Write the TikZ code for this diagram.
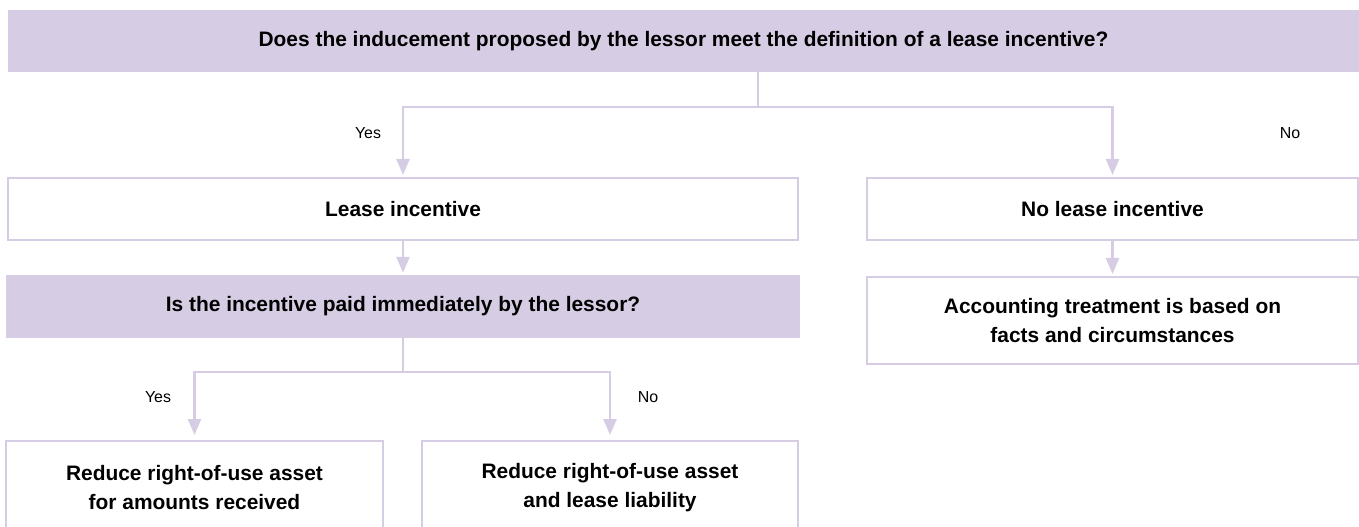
\documentclass[tikz,border=0pt]{standalone}
\usepackage{fontspec}
\setmainfont{Liberation Sans}
\usetikzlibrary{arrows.meta}
\definecolor{lav}{RGB}{214,204,228}
\begin{document}
\begin{tikzpicture}[x=1bp,y=-1bp,
  qbox/.style={fill=lav,inner sep=0pt,align=center,font=\fontsize{21}{29}\selectfont\bfseries},
  abox/.style={draw=lav,line width=2bp,fill=white,inner sep=0pt,align=center,font=\fontsize{21}{28.5}\selectfont\bfseries},
  conn/.style={draw=lav,line width=2.5bp},
  arr/.style={conn,-{Triangle[width=13bp,length=16bp]},shorten >=2bp},
  lbl/.style={font=\fontsize{16}{18}\selectfont,inner sep=0pt}]
\useasboundingbox (0,0) rectangle (1359,527);
\node[qbox,minimum width=1351bp,minimum height=62bp] (q1) at (683.5,41) {Does the inducement proposed by the lessor meet the definition of a lease incentive?};
\node[abox,minimum width=790bp,minimum height=62bp] (li) at (403,209) {Lease incentive};
\node[abox,minimum width=491bp,minimum height=62bp] (nli) at (1112.5,209) {No lease incentive};
\node[qbox,minimum width=793bp,minimum height=63bp] (q2) at (403,306.5) {Is the incentive paid immediately by the lessor?};
\node[abox,minimum width=491bp,minimum height=87bp] (acc) at (1112.5,320.5) {Accounting treatment is based on\\facts and circumstances};
\node[abox,minimum width=377bp,minimum height=93bp] (r1) at (194.5,487.5) {Reduce right-of-use asset\\for amounts received};
\node[abox,minimum width=376bp,minimum height=93bp] (r2) at (610,487.5) {Reduce right-of-use asset\\and lease liability};
\coordinate (j1) at (758,107);
\coordinate (j2) at (403,372);
\draw[conn] (q1.south -| j1) -- (j1);
\draw[arr] (j1) -| (li.north);
\draw[arr] (j1) -| (nli.north);
\draw[arr] (li.south) -- (q2.north);
\draw[arr] (nli.south) -- (acc.north);
\draw[conn] (q2.south) -- (j2);
\draw[arr,shorten >=5bp] (j2) -| (r1.north);
\draw[arr,shorten >=5bp] (j2) -| (r2.north);
\node[lbl] (y1) at (368,133) {Yes};
\node[lbl] (n1) at (1290,133) {No};
\node[lbl] (y2) at (158,397) {Yes};
\node[lbl] (n2) at (648,397) {No};
\end{tikzpicture}
\end{document}
